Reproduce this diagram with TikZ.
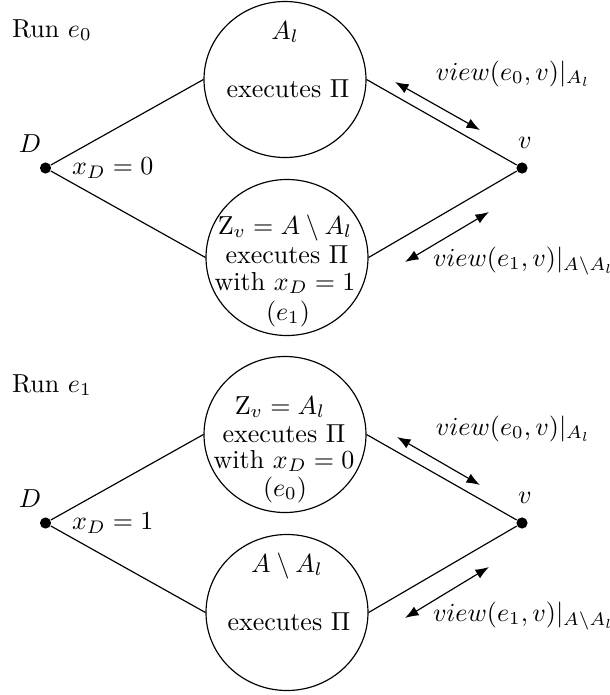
\documentclass[tikz,border=0pt]{standalone}
\usepackage{amsmath,amssymb}
\usetikzlibrary{arrows.meta,shapes.geometric}
\begin{document}
\begin{tikzpicture}[x=0.3846pt,y=-0.3846pt,
  dotnode/.style={circle,fill,inner sep=0pt,minimum size=4.3pt},
  blob/.style={ellipse,draw,line width=0.45pt,minimum width=62.3pt,minimum height=60pt,inner sep=0pt},
  lbl/.style={inner sep=0pt,outer sep=0pt},
  edgeline/.style={line width=0.45pt},
  dbl/.style={line width=0.45pt,{Latex[length=5.2pt,width=3.9pt]}-{Latex[length=5.2pt,width=3.9pt]}}]
\useasboundingbox (0,0) rectangle (609,695);
% ---------------- Run e0 ----------------
\node[lbl,anchor=base west] (run0) at (12,37) {Run $e_0$};
\node[blob] (t0) at (285,79.5) {};
\node[blob] (b0) at (287,257.5) {};
\node[dotnode] (D0) at (45.5,168) {};
\node[dotnode] (v0) at (522,168) {};
\node[lbl,anchor=base] (Dl0) at (30,152) {$D$};
\node[lbl,anchor=base] (vl0) at (525,148) {$v$};
\node[lbl,anchor=base west] (x0) at (72,174.5) {$x_D=0$};
\draw[edgeline] (D0) -- (t0.west);
\draw[edgeline] (D0) -- (b0.west);
\draw[edgeline] (v0) -- (t0.east);
\draw[edgeline] (v0) -- (b0.east);
\node[lbl,anchor=base] (t0a) at (285,39) {$A_l$};
\node[lbl,anchor=base] (t0b) at (288,97) {executes $\Pi$};
\node[lbl,anchor=base] (b0a) at (285,234) {Z$_v = A\setminus A_l$};
\node[lbl,anchor=base] (b0b) at (287,263) {executes $\Pi$};
\node[lbl,anchor=base] (b0c) at (285,290) {with $x_D=1$};
\node[lbl,anchor=base] (b0d) at (288,320) {$(e_1)$};
\coordinate (p0a) at (395,82);
\coordinate (p0b) at (480,130);
\coordinate (q0a) at (489,212);
\coordinate (q0b) at (405,262);
\draw[dbl] (p0a) -- (p0b);
\draw[dbl] (q0a) -- (q0b);
\node[lbl,anchor=base west] (w0a) at (436,80) {$view(e_0,v)|_{A_l}$};
\node[lbl,anchor=base west] (w0b) at (433,266) {$view(e_1,v)|_{A\setminus A_l}$};
% ---------------- Run e1 ----------------
\node[lbl,anchor=base west] (run1) at (12,392) {Run $e_1$};
\node[blob] (t1) at (285,434.5) {};
\node[blob] (b1) at (287,612.5) {};
\node[dotnode] (D1) at (45.5,523) {};
\node[dotnode] (v1) at (522,523) {};
\node[lbl,anchor=base] (Dl1) at (30,507) {$D$};
\node[lbl,anchor=base] (vl1) at (525,503) {$v$};
\node[lbl,anchor=base west] (x1) at (72,529.5) {$x_D=1$};
\draw[edgeline] (D1) -- (t1.west);
\draw[edgeline] (D1) -- (b1.west);
\draw[edgeline] (v1) -- (t1.east);
\draw[edgeline] (v1) -- (b1.east);
\node[lbl,anchor=base] (t1a) at (280,414) {Z$_v = A_l$};
\node[lbl,anchor=base] (t1b) at (284,442) {executes $\Pi$};
\node[lbl,anchor=base] (t1c) at (284,468) {with $x_D=0$};
\node[lbl,anchor=base] (t1d) at (285,496) {$(e_0)$};
\node[lbl,anchor=base] (b1a) at (287,572) {$A\setminus A_l$};
\node[lbl,anchor=base] (b1b) at (289,630) {executes $\Pi$};
\coordinate (p1a) at (397,437);
\coordinate (p1b) at (480,485);
\coordinate (q1a) at (489,567);
\coordinate (q1b) at (405,618);
\draw[dbl] (p1a) -- (p1b);
\draw[dbl] (q1a) -- (q1b);
\node[lbl,anchor=base west] (w1a) at (436,435) {$view(e_0,v)|_{A_l}$};
\node[lbl,anchor=base west] (w1b) at (433,621) {$view(e_1,v)|_{A\setminus A_l}$};
\end{tikzpicture}
\end{document}
